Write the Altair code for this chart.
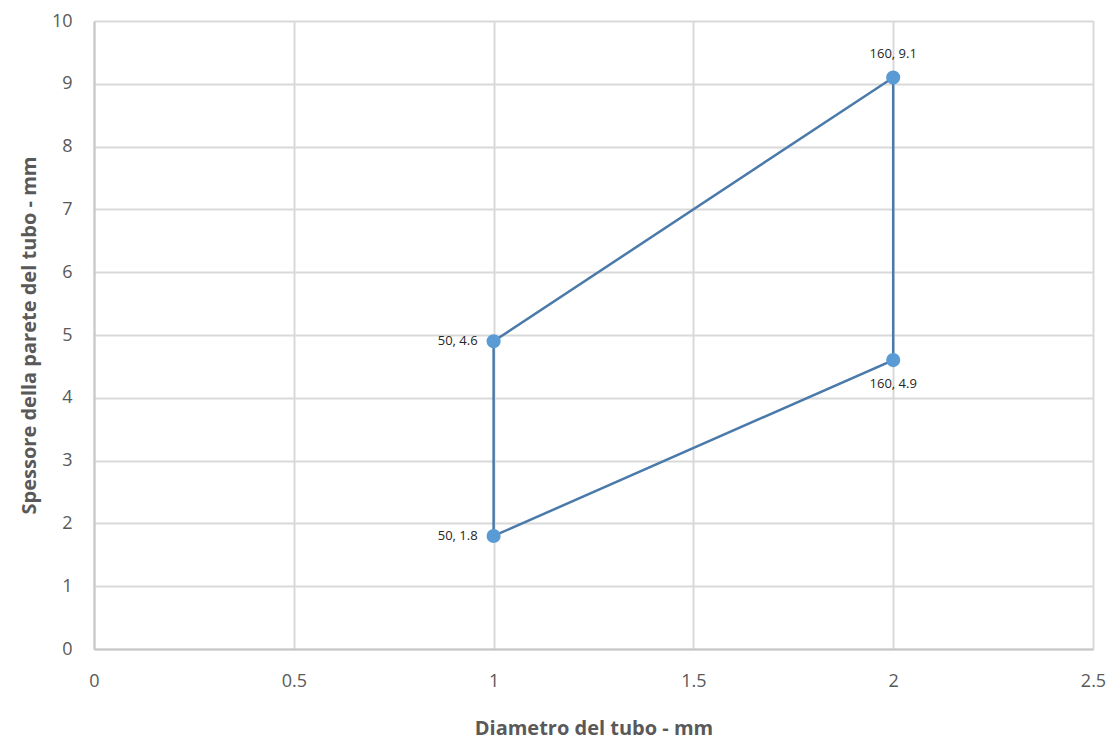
import altair as alt
import pandas as pd

diam = [1, 1, 2, 2, 1]
spess = [1.8, 4.9, 9.1, 4.6, 1.8]
order = [0, 1, 2, 3, 4]

pt_x = [1, 2, 2, 1]
pt_y = [4.9, 9.1, 4.6, 1.8]
pt_label = ["50, 4.6", "160, 9.1", "160, 4.9", "50, 1.8"]
pt_pos = ["left", "above", "below", "left"]

x_ticks = [0, 0.5, 1, 1.5, 2, 2.5]
y_ticks = list(range(0, 11))

line_df = pd.DataFrame({"x": diam, "y": spess, "o": order})
pt_df = pd.DataFrame({"x": pt_x, "y": pt_y, "label": pt_label, "pos": pt_pos})

xs = alt.Scale(domain=[0, 2.5], nice=False)
ys = alt.Scale(domain=[0, 10], nice=False)

xax = alt.Axis(values=x_ticks, labelExpr="datum.value + ''", title="Diametro del tubo - mm",
               labelFontSize=18, labelColor="#595959", labelPadding=23, ticks=False, labelFlush=False,
               titleFontSize=20, titleColor="#595959", titleFontWeight="bold", titlePadding=28,
               gridColor="#d9d9d9", gridWidth=2, domainColor="#c8c8c8", domainWidth=2,
               labelFont="Open Sans", titleFont="Open Sans")
yax = alt.Axis(values=y_ticks, labelExpr="datum.value + ''", title="Spessore della parete del tubo - mm",
               labelFontSize=18, labelColor="#595959", labelPadding=22, ticks=False, labelFlush=False,
               titleFontSize=20, titleColor="#595959", titleFontWeight="bold", titlePadding=12,
               gridColor="#d9d9d9", gridWidth=2, domainColor="#c8c8c8", domainWidth=2,
               labelFont="Open Sans", titleFont="Open Sans")

line = alt.Chart(line_df).mark_line(color="#4a7aaa", strokeWidth=2.5).encode(
    x=alt.X("x:Q", scale=xs, axis=xax),
    y=alt.Y("y:Q", scale=ys, axis=yax),
    order="o:Q",
)

pts = alt.Chart(pt_df).mark_circle(color="#5b9bd5", size=200, opacity=1).encode(
    x=alt.X("x:Q", scale=xs), y=alt.Y("y:Q", scale=ys)
)

txt_left = alt.Chart(pt_df).transform_filter("datum.pos == 'left'").mark_text(
    align="right", baseline="middle", dx=-16, fontSize=13, color="#262626", font="Open Sans"
).encode(x=alt.X("x:Q", scale=xs), y=alt.Y("y:Q", scale=ys), text="label:N")

txt_above = alt.Chart(pt_df).transform_filter("datum.pos == 'above'").mark_text(
    align="center", baseline="middle", dy=-24, fontSize=13, color="#262626", font="Open Sans"
).encode(x=alt.X("x:Q", scale=xs), y=alt.Y("y:Q", scale=ys), text="label:N")

txt_below = alt.Chart(pt_df).transform_filter("datum.pos == 'below'").mark_text(
    align="center", baseline="middle", dy=24, fontSize=13, color="#262626", font="Open Sans"
).encode(x=alt.X("x:Q", scale=xs), y=alt.Y("y:Q", scale=ys), text="label:N")

chart = alt.layer(line, pts, txt_left, txt_above, txt_below).properties(
    width=999, height=628,
    autosize=alt.AutoSizeParams(type="none"),
    padding={"left": 86, "top": 13, "right": 15, "bottom": 95},
).configure_view(stroke=None).configure(background="white")

chart.save("out.html", embed_options={"renderer": "svg", "actions": False})
